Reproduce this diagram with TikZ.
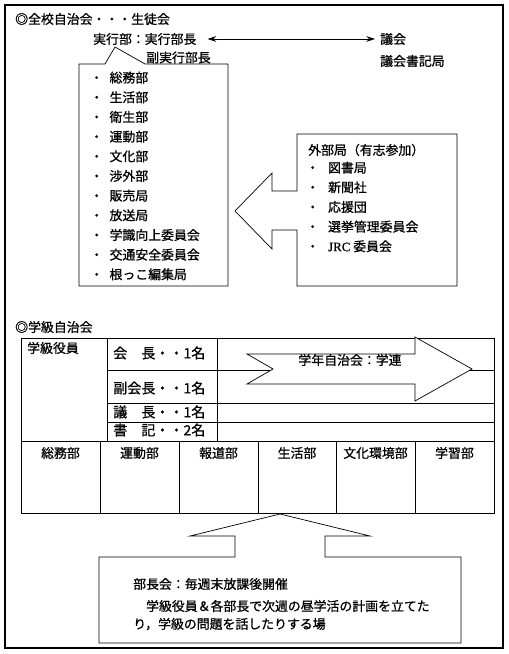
\documentclass[tikz,border=0pt]{standalone}
\usepackage{fontspec}
\usepackage{tikz}
\usetikzlibrary{arrows.meta,positioning}
\newfontfamily\jp[RawFeature={embolden=0.8}]{Noto Sans CJK JP}
\newfontfamily\lat[RawFeature={embolden=0.8}]{Liberation Serif}
\newcommand{\jpeleven}{\jp\fontsize{11pt}{13pt}\selectfont}
\newcommand{\jptwelve}{\jp\fontsize{12pt}{14pt}\selectfont}

\begin{document}
\begin{tikzpicture}[
  x=0.03cm, y=-0.03cm,
  txt/.style={font=\jpeleven, anchor=west, inner sep=0pt},
  role/.style={font=\jptwelve, anchor=west, inner sep=0pt},
  item/.style={font=\jpeleven, anchor=west, inner sep=0pt, minimum height=0.576cm, text height=0.8em, text depth=0.2em},
  nextitem/.style={item, below=0pt of #1.south west, anchor=north west},
  dept/.style={font=\jpeleven, inner sep=0pt},
  frame/.style={line width=1pt},
  box/.style={line width=0.6pt, fill=white},
  grid/.style={line width=0.5pt},
  arr/.style={{Stealth[length=2.6mm,width=1.7mm]}-{Stealth[length=2.6mm,width=1.7mm]}, line width=0.5pt}
]
\useasboundingbox (0,0) rectangle (508,654);
\draw[frame] (5,5) rectangle (503,648);

% callout with the departments
\draw[box] (79,64) -- (105,64) -- (115,47) -- (145,64) -- (228,64) -- (228,286) -- (79,286) -- cycle;

% student council
\node[txt] (title) at (15,19) {◎全校自治会・・・生徒会};
\node[txt] (exec) at (93,39) {実行部：実行部長};
\node[txt] (vice) at (146,57.5) {副実行部長};
\node[txt] (gikai) at (380,39) {議会};
\node[txt] (shoki) at (380,61) {議会書記局};
\draw[arr, shorten <=0.33cm, shorten >=0.15cm] (exec.east) -- (gikai.west);

\node[item] (s1) at (90,79) {・\hspace{.5em}総務部};
\node[nextitem=s1] (s2) {・\hspace{.5em}生活部};
\node[nextitem=s2] (s3) {・\hspace{.5em}衛生部};
\node[nextitem=s3] (s4) {・\hspace{.5em}運動部};
\node[nextitem=s4] (s5) {・\hspace{.5em}文化部};
\node[nextitem=s5] (s6) {・\hspace{.5em}渉外部};
\node[nextitem=s6] (s7) {・\hspace{.5em}販売局};
\node[nextitem=s7] (s8) {・\hspace{.5em}放送局};
\node[nextitem=s8] (s9) {・\hspace{.5em}学識向上委員会};
\node[nextitem=s9] (s10) {・\hspace{.5em}交通安全委員会};
\node[nextitem=s10] (s11) {・\hspace{.5em}根っこ編集局};

% outside bureaus, box and arrow in one outline
\draw[box] (297,230) -- (297,286) -- (457,286) -- (457,134) -- (297,134) -- (297,191)
  -- (272,191) -- (272,173) -- (235,211) -- (272,249) -- (272,230) -- cycle;
\node[txt] (gaibu) at (308,150) {外部局（有志参加）};
\node[item] (g1) at (306,169) {・\hspace{.7em}図書局};
\node[nextitem=g1] (g2) {・\hspace{.7em}新聞社};
\node[nextitem=g2] (g3) {・\hspace{.7em}応援団};
\node[nextitem=g3] (g4) {・\hspace{.7em}選挙管理委員会};
\node[nextitem=g4] (g5) {・\hspace{.7em}{\lat JRC} 委員会};

% class council
\node[txt] (class) at (15,327) {◎学級自治会};
\draw[grid] (21,338) rectangle (494,513);
\draw[grid] (107,338) -- (107,441);
\draw[grid] (217,338) -- (217,441);
\draw[grid] (107,370) -- (494,370);
\draw[grid] (107,403) -- (494,403);
\draw[grid] (107,422) -- (494,422);
\draw[grid] (21,441) -- (494,441);
\draw[grid] (100,441) -- (100,513);
\draw[grid] (179,441) -- (179,513);
\draw[grid] (258,441) -- (258,513);
\draw[grid] (336,441) -- (336,513);
\draw[grid] (415,441) -- (415,513);

\node[txt] (yakuin) at (27,348) {学級役員};
\node[role] (kaicho) at (113,353) {会　長・・1名};
\node[role] (fuku) at (113,388) {副会長・・1名};
\node[role] (gicho) at (113,412) {議　長・・1名};
\node[role] (shoki2) at (113,430) {書　記・・2名};

\draw[box] (247,354) -- (415,354) -- (415,337) -- (472,369) -- (415,401) -- (415,384)
  -- (247,384) -- (273,369) -- cycle;
\node[dept] (gakuren) at (350,360) {学年自治会：学連};

\node[dept] (d1) at (60.5,453) {総務部};
\node[dept] (d2) at (139.5,453) {運動部};
\node[dept] (d3) at (218.5,453) {報道部};
\node[dept] (d4) at (297,453) {生活部};
\node[dept] (d5) at (375.5,453) {文化環境部};
\node[dept] (d6) at (454.5,453) {学習部};

% heads meeting
\draw[box] (99,557) -- (235,557) -- (235,536) -- (190,536) -- (280,514) -- (370,536)
  -- (325,536) -- (325,557) -- (461,557) -- (461,643) -- (99,643) -- cycle;
\node[txt] (bucho) at (133,584) {部長会：毎週末放課後開催};
\node[txt] (plan1) at (133,606) {　学級役員＆各部長で次週の昼学活の計画を立てた};
\node[txt] (plan2) at (133,624) {り，学級の問題を話したりする場};
\end{tikzpicture}
\end{document}
